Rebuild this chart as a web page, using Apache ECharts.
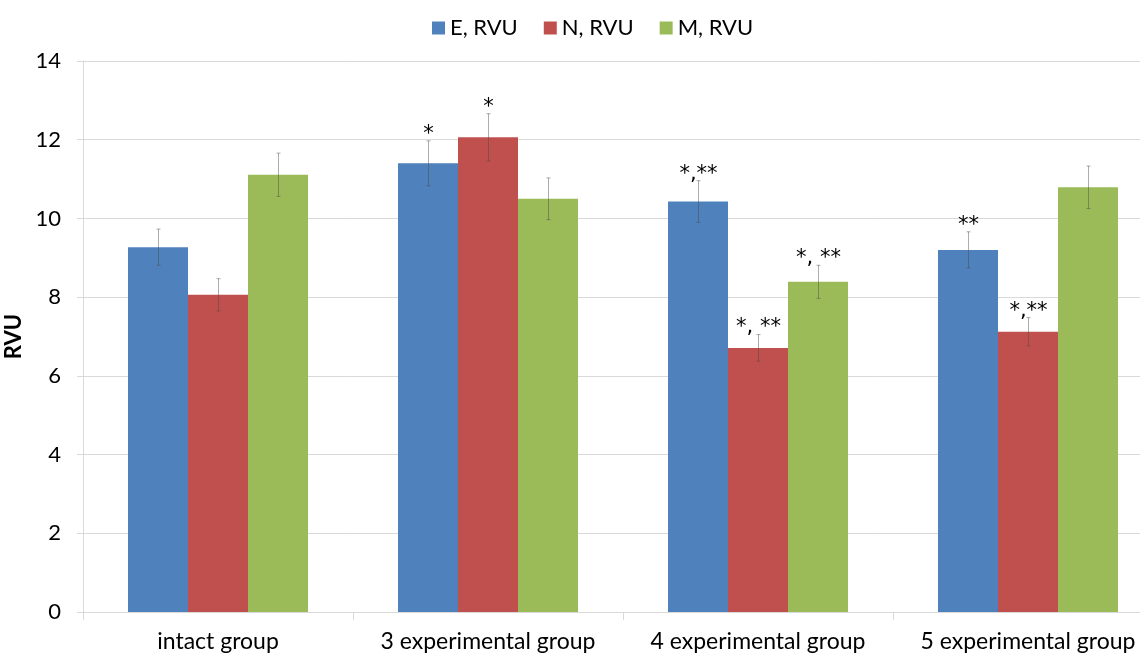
<!DOCTYPE html>
<html>
<head>
<meta charset="utf-8">
<script src="https://cdn.jsdelivr.net/npm/echarts@6/dist/echarts.min.js"></script>
<style>
  html, body { margin: 0; padding: 0; background: #fff; }
  #chart { width: 1140px; height: 655px; }
</style>
</head>
<body>
<div id="chart"></div>
<script>
// groups on the x axis
const categories = ["intact group", "3 experimental group", "4 experimental group", "5 experimental group"];

// mean values (RVU)
const eValues = [9.27, 11.40, 10.43, 9.20];
const nValues = [8.06, 12.06, 6.71, 7.12];
const mValues = [11.11, 10.50, 8.39, 10.79];

// error bar half length
const eErrors = [0.46, 0.57, 0.53, 0.46];
const nErrors = [0.41, 0.60, 0.34, 0.36];
const mErrors = [0.55, 0.53, 0.42, 0.54];

// significance marks above the error bars
const eMarks = ["", "*", "*,**", "**"];
const nMarks = ["", "*", "*, **", "*,**"];
const mMarks = ["", "", "*, **", ""];

const yTicks = [0, 2, 4, 6, 8, 10, 12, 14];

const FONT = "Lato";
const GAP = 1 / 3; // barCategoryGap

const chart = echarts.init(document.getElementById("chart"));

// error bar + label, drawn on top of the bars
function errorSeries(idx, values, errors, marks) {
  return {
    type: "custom",
    z: 10,
    silent: true,
    data: values.map((v, i) => [i, v, errors[i]]),
    renderItem: function (params, api) {
      const ci = api.value(0);
      const v = api.value(1);
      const e = api.value(2);
      const bandW = api.size([1, 0])[0];
      const barW = (bandW * (1 - GAP)) / 3;
      const off = (idx - 1) * barW;
      const hi = api.coord([ci, v + e]);
      const lo = api.coord([ci, v - e]);
      const x = Math.round(hi[0] + off) + 0.5;
      const lineStyle = { stroke: "rgba(70,70,70,0.45)", lineWidth: 1 };
      const children = [
        { type: "line", shape: { x1: x, y1: hi[1], x2: x, y2: lo[1] }, style: lineStyle },
        { type: "line", shape: { x1: x - 2, y1: hi[1], x2: x + 2, y2: hi[1] }, style: lineStyle },
        { type: "line", shape: { x1: x - 2, y1: lo[1], x2: x + 2, y2: lo[1] }, style: lineStyle }
      ];
      const mark = marks[params.dataIndex];
      if (mark) {
        children.push({
          type: "text",
          style: {
            text: mark,
            x: x,
            y: hi[1] + 4,
            textAlign: "center",
            textVerticalAlign: "bottom",
            fontSize: 21,
            fontFamily: "DejaVu Sans",
            fill: "#000"
          }
        });
      }
      return { type: "group", children: children };
    }
  };
}

const option = {
  animation: false,
  textStyle: { fontFamily: FONT },
  legend: {
    top: 12,
    left: 427,
    icon: "rect",
    itemWidth: 13,
    itemHeight: 13,
    itemGap: 26,
    textStyle: { fontSize: 22, color: "#000", fontFamily: FONT },
    data: ["E, RVU", "N, RVU", "M, RVU"]
  },
  // plot runs past the right edge, as in the original
  grid: { left: 83, top: 61, width: 1080, height: 551, outerBoundsMode: "none", containLabel: false },
  xAxis: {
    type: "category",
    data: categories,
    axisLine: { lineStyle: { color: "#d9d9d9" } },
    axisTick: { show: true, length: 8, lineStyle: { color: "#d9d9d9" } },
    axisLabel: { fontSize: 23, color: "#000", margin: 18, interval: 0, fontFamily: FONT }
  },
  yAxis: {
    type: "value",
    min: yTicks[0],
    max: yTicks[yTicks.length - 1],
    interval: 2,
    name: "RVU",
    nameLocation: "middle",
    nameRotate: 90,
    nameGap: 52,
    nameTextStyle: { fontSize: 22, fontWeight: "bold", color: "#000", fontFamily: FONT },
    axisLine: { show: true, lineStyle: { color: "#d9d9d9" } },
    axisTick: { show: true, length: 6, lineStyle: { color: "#d9d9d9" } },
    axisLabel: { fontSize: 22, color: "#000", margin: 22, fontFamily: FONT },
    splitLine: { lineStyle: { color: "#d9d9d9" } }
  },
  series: [
    { name: "E, RVU", type: "bar", data: eValues, barGap: "0%", barCategoryGap: "33.33%", itemStyle: { color: "#4F81BD" } },
    { name: "N, RVU", type: "bar", data: nValues, barGap: "0%", barCategoryGap: "33.33%", itemStyle: { color: "#C0504D" } },
    { name: "M, RVU", type: "bar", data: mValues, barGap: "0%", barCategoryGap: "33.33%", itemStyle: { color: "#9BBB59" } },
    errorSeries(0, eValues, eErrors, eMarks),
    errorSeries(1, nValues, nErrors, nMarks),
    errorSeries(2, mValues, mErrors, mMarks)
  ]
};

chart.setOption(option);
</script>
</body>
</html>
